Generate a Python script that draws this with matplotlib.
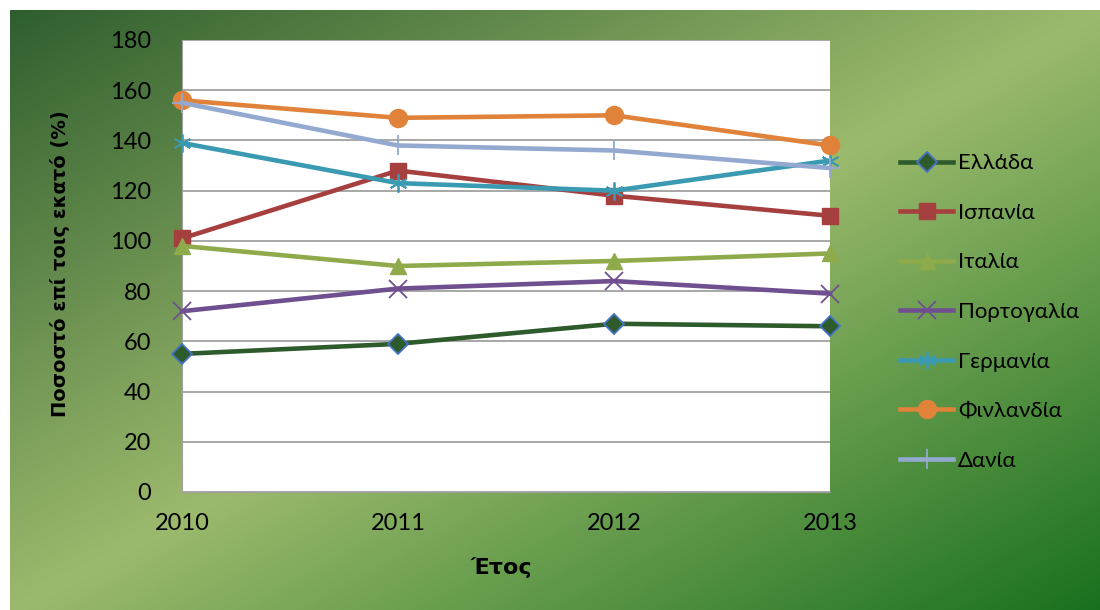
import numpy as np
import matplotlib
matplotlib.use("Agg")
import matplotlib.pyplot as plt

plt.rcParams['font.family'] = ['Lato', 'DejaVu Sans']

years = [2010, 2011, 2012, 2013]
xwres = ['Ελλάδα', 'Ισπανία', 'Ιταλία', 'Πορτογαλία', 'Γερμανία', 'Φινλανδία', 'Δανία']
ellada = [55, 59, 67, 66]
ispania = [101, 128, 118, 110]
italia = [98, 90, 92, 95]
portogalia = [72, 81, 84, 79]
germania = [139, 123, 120, 132]
finlandia = [156, 149, 150, 138]
dania = [155, 138, 136, 129]

times = [ellada, ispania, italia, portogalia, germania, finlandia, dania]
xrwmata = ['#2e5b2b', '#a5403e', '#8eaa4a', '#6f4f8f', '#3a9ab2', '#e0823a', '#94a9d0']
markers = ['D', 's', '^', 'x', (6, 2, 0), 'o', '+']
msizes = [10, 12, 12, 13, 13, 13, 15]


def fondo(fig):
    # diagonal green gradient, dark in the corners, light in the middle
    bg = fig.add_axes([10 / 1100, 0, 1 - 10 / 1100, 600 / 610], zorder=-10)
    h, w = 300, 550
    yy, xx = np.mgrid[0:h, 0:w]
    t = (xx / w + yy / h) / 2
    dark1 = np.array([0x2f, 0x5e, 0x2e]) / 255
    light = np.array([0x9c, 0xba, 0x6d]) / 255
    dark2 = np.array([0x18, 0x70, 0x1e]) / 255
    s = (t / 0.5)[..., None]
    s2 = ((t - 0.5) / 0.5)[..., None]
    img = np.where((t < 0.5)[..., None], dark1 + (light - dark1) * s, light + (dark2 - light) * s2)
    bg.imshow(img, aspect='auto', interpolation='bilinear')
    bg.axis('off')


def main():
    fig = plt.figure(figsize=(11, 6.1), dpi=100)
    fig.patch.set_facecolor('white')
    fondo(fig)

    ax = fig.add_axes([182 / 1100, 118 / 610, 648 / 1100, 452 / 610])
    ax.set_facecolor('white')

    for nombre, vals, c, m, ms in zip(xwres, times, xrwmata, markers, msizes):
        if m == 'D':
            ax.plot(years, vals, color=c, lw=3.3, marker=m, ms=ms, mfc=c,
                    mec='#4472c4', mew=1.3, label=nombre, clip_on=False, zorder=3)
        elif m in ('x', '+') or isinstance(m, tuple):
            ax.plot(years, vals, color=c, lw=3.3, marker=m, ms=ms, mec=c,
                    mew=1.3, label=nombre, clip_on=False, zorder=3)
        else:
            ax.plot(years, vals, color=c, lw=3.3, marker=m, ms=ms, mfc=c,
                    mec=c, label=nombre, clip_on=False, zorder=3)

    ax.set_xlim(2010, 2013)
    ax.set_ylim(0, 180)
    ax.set_yticks(range(0, 181, 20))
    ax.set_xticks(years)
    ax.grid(axis='y', color='#a0a0a0', lw=1.3)
    ax.set_axisbelow(True)
    for s in ['top', 'right']:
        ax.spines[s].set_visible(False)
    ax.spines['left'].set_color('#a0a0a0')
    ax.spines['bottom'].set_color('#a0a0a0')
    ax.tick_params(axis='both', length=0, labelsize=17, colors='black')
    ax.tick_params(axis='x', pad=15)
    ax.tick_params(axis='y', pad=22)

    fig.text(60 / 1100, 1 - 264 / 610, 'Ποσοστό επί τοις εκατό (%)', rotation=90,
             ha='center', va='center', fontsize=14, fontweight='bold',
             family='DejaVu Sans')
    fig.text(501 / 1100, 1 - 567 / 610, 'Έτος', ha='center', va='center',
             fontsize=16, fontweight='bold', family='DejaVu Sans')

    fig.legend(loc='center left', bbox_to_anchor=(880 / 1100, 1 - 312 / 610),
               frameon=False, fontsize=16, handlelength=2.4, handletextpad=0.2,
               labelspacing=1.33)

    fig.savefig('out.png', dpi=100)


if __name__ == "__main__":
    main()
